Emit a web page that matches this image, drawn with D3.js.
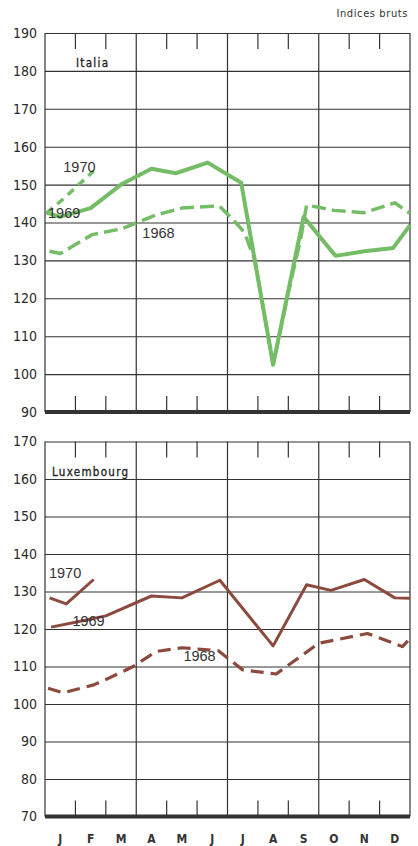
<!DOCTYPE html>
<html>
<head>
<meta charset="utf-8">
<script src="https://cdn.jsdelivr.net/npm/d3@7"></script>
<style>
  body { margin: 0; background: #fff; }
  svg { display: block; }
  .grid line { stroke: #333; stroke-width: 1.1; }
  .grid path { display: none; }
  .ylab text { font-family: "DejaVu Sans Condensed", "DejaVu Sans", sans-serif; font-size: 14px; fill: #2a2a2a; }
  .yr { font-family: "Liberation Sans", Arial, sans-serif; font-size: 14.5px; fill: #333; }
  .country { font-family: "DejaVu Sans Condensed", sans-serif; font-size: 11.5px; fill: #222; letter-spacing: 1.3px; stroke: #222; stroke-width: 0.3px; }
  .month { font-family: "DejaVu Sans Condensed", sans-serif; font-size: 12px; font-weight: bold; fill: #333; }
</style>
</head>
<body>
<div id="root"></div>
<script>
const W = 418, H = 846;

// month labels and y ticks
const months = ["J", "F", "M", "A", "M", "J", "J", "A", "S", "O", "N", "D"];
const ticksItalia = [90, 100, 110, 120, 130, 140, 150, 160, 170, 180, 190];
const ticksLux = [70, 80, 90, 100, 110, 120, 130, 140, 150, 160, 170];

// series: [month position (0 = start of Jan, 12 = end of Dec), index]
const italia1968 = [[0.15, 132.4], [0.5, 131.8], [1.55, 136.8], [2.5, 138.3], [3.0, 139.9], [3.65, 142], [4.5, 143.8], [5.5, 144.3], [5.75, 144.2], [6.15, 141], [6.55, 137.5], [6.9, 130], [7.5, 102.5], [8.0, 121.5], [8.4, 135.5], [8.6, 144.6], [9.5, 143.2], [10.5, 142.6], [11.5, 145.2], [12, 142.4]];
const italia1969 = [[0.05, 142.6], [0.5, 141.5], [1.5, 143.8], [2.5, 150], [3.5, 154.2], [4.3, 153], [5.35, 155.8], [6.45, 150.5], [7.5, 102.5], [8.5, 141.5], [9.55, 131.2], [10.5, 132.4], [11.45, 133.3], [12, 139.3]];
const italia1970 = [[0.05, 142.5], [0.6, 146.2], [1.6, 153.6]];

const lux1968 = [[0.1, 104.2], [0.6, 103], [1.6, 105.1], [2.1, 106.9], [2.9, 110], [3.65, 114], [4.5, 115], [5.7, 114.2], [6.5, 109.1], [7.6, 108], [9.0, 116.2], [10.6, 118.8], [11.75, 115.3], [12, 117.4]];
const lux1969 = [[0.2, 120.5], [1.0, 121.8], [2.0, 123.5], [3.5, 128.8], [4.5, 128.3], [5.75, 133], [7.5, 115.5], [8.6, 131.8], [9.4, 130.3], [10.5, 133.2], [11.5, 128.3], [12, 128.2]];
const lux1970 = [[0.15, 128.3], [0.7, 126.7], [1.6, 133.2]];

// year labels: [month position, index, text]
const italiaLabels = [[0.6, 153.4, "1970"], [0.1, 141.2, "1969"], [3.2, 136, "1968"]];
const luxLabels = [[0.13, 133.5, "1970"], [0.9, 120.8, "1969"], [4.55, 111.4, "1968"]];

const green = "#74bd66", brown = "#8b4a3d";
const left = 45, right = 410;

const svg = d3.select("#root").append("svg")
    .attr("width", W).attr("height", H);

const x = d3.scaleLinear().domain([0, 12]).range([left, right]);

svg.append("text")
    .attr("x", 408).attr("y", 17)
    .attr("text-anchor", "end")
    .style("font-family", "DejaVu Sans Condensed, sans-serif")
    .style("font-size", "11px")
    .style("letter-spacing", "0.6px")
    .style("fill", "#333")
    .text("Indices bruts");

function panel(y, ticks, series, color, labels, name, nameX) {
    const top = y.range()[1], bottom = y.range()[0];
    const g = svg.append("g");

    // horizontal gridlines
    g.append("g")
        .attr("class", "grid")
        .attr("transform", "translate(" + left + ",0)")
        .call(d3.axisLeft(y).tickValues(ticks).tickSize(-(right - left)).tickFormat(""));

    // quarter lines + frame sides
    g.selectAll(".vq")
        .data([0, 3, 6, 9, 12])
        .enter().append("line")
        .attr("x1", d => x(d)).attr("x2", d => x(d))
        .attr("y1", top).attr("y2", bottom)
        .attr("stroke", "#333").attr("stroke-width", 1.2);

    // month ticks, top and bottom
    const mt = [1, 2, 4, 5, 7, 8, 10, 11];
    g.selectAll(".tt").data(mt).enter().append("line")
        .attr("x1", d => x(d)).attr("x2", d => x(d))
        .attr("y1", top).attr("y2", top + 16)
        .attr("stroke", "#333").attr("stroke-width", 1.2);
    g.selectAll(".tb").data(mt).enter().append("line")
        .attr("x1", d => x(d)).attr("x2", d => x(d))
        .attr("y1", bottom).attr("y2", bottom - 16)
        .attr("stroke", "#333").attr("stroke-width", 1.2);

    // thick base
    g.append("line")
        .attr("x1", left).attr("x2", right)
        .attr("y1", bottom).attr("y2", bottom)
        .attr("stroke", "#333").attr("stroke-width", 4);

    // y labels
    g.append("g")
        .attr("class", "ylab")
        .attr("transform", "translate(" + (left - 8) + ",0)")
        .call(d3.axisLeft(y).tickValues(ticks).tickSize(0).tickPadding(0))
        .call(a => a.select(".domain").remove());

    const line = d3.line().x(d => x(d[0])).y(d => y(d[1]));

    series.forEach(s => {
        g.append("path")
            .datum(s.data)
            .attr("d", line)
            .attr("fill", "none")
            .attr("stroke", color)
            .attr("stroke-width", s.w)
            .attr("stroke-linejoin", "round")
            .attr("stroke-dasharray", s.dash || null);
    });

    g.selectAll(".yr").data(labels).enter().append("text")
        .attr("class", "yr")
        .attr("x", d => x(d[0])).attr("y", d => y(d[1]))
        .text(d => d[2]);

    g.append("text")
        .attr("class", "country")
        .attr("x", nameX).attr("y", top + 34)
        .text(name);
}

const yIt = d3.scaleLinear().domain([90, 190]).range([412, 33]);
const yLu = d3.scaleLinear().domain([70, 170]).range([816.5, 441.5]);

panel(yIt, ticksItalia, [
    {data: italia1968, w: 3.5, dash: "14,6"},
    {data: italia1969, w: 4},
    {data: italia1970, w: 3.5, dash: "8,6"}
], green, italiaLabels, "Italia", 76);

panel(yLu, ticksLux, [
    {data: lux1968, w: 3.2, dash: "13,7"},
    {data: lux1969, w: 3},
    {data: lux1970, w: 3}
], brown, luxLabels, "Luxembourg", 52);

// month labels
svg.selectAll(".month").data(months).enter().append("text")
    .attr("class", "month")
    .attr("x", (d, i) => x(i + 0.5)).attr("y", 843)
    .attr("text-anchor", "middle")
    .text(d => d);
</script>
</body>
</html>
